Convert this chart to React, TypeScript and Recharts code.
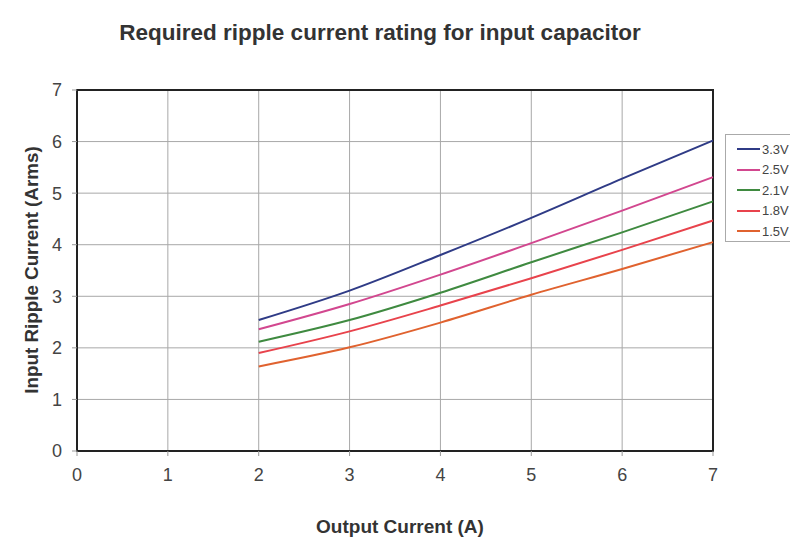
import React from 'react';
import { LineChart, Line, XAxis, YAxis, CartesianGrid, ReferenceArea } from 'recharts';

// output current (A)
const outputCurrent = [2, 3, 4, 5, 6, 7];

// input ripple current (Arms) per output voltage
const ripple33 = [2.54, 3.11, 3.80, 4.52, 5.28, 6.02];
const ripple25 = [2.36, 2.85, 3.42, 4.03, 4.66, 5.31];
const ripple21 = [2.12, 2.54, 3.07, 3.66, 4.24, 4.84];
const ripple18 = [1.90, 2.32, 2.82, 3.35, 3.90, 4.47];
const ripple15 = [1.64, 2.01, 2.49, 3.03, 3.53, 4.05];

const seriesNames = ['3.3V', '2.5V', '2.1V', '1.8V', '1.5V'];
const seriesColors = ['#2f3b86', '#d2478f', '#3f8a40', '#e8434c', '#e0622f'];
const seriesValues = [ripple33, ripple25, ripple21, ripple18, ripple15];

const axisTicks = [0, 1, 2, 3, 4, 5, 6, 7];

const data = outputCurrent.map((x, i) => {
  const row: any = { x };
  seriesNames.forEach((name, s) => {
    row[name] = seriesValues[s][i];
  });
  return row;
});

const font = '"Liberation Sans", Arial, Helvetica, sans-serif';

export default function App() {
  return (
    <div
      style={{
        position: 'absolute',
        left: 0,
        top: 0,
        width: 790,
        height: 537,
        overflow: 'hidden',
        background: '#fff',
        fontFamily: font,
      }}
    >
      <div
        style={{
          position: 'absolute',
          left: 380,
          top: 33,
          transform: 'translate(-50%, -50%)',
          whiteSpace: 'nowrap',
          fontWeight: 'bold',
          fontSize: 22.5,
          color: '#333',
        }}
      >
        Required ripple current rating for input capacitor
      </div>

      <LineChart
        width={790}
        height={537}
        data={data}
        margin={{ top: 90, right: 77, bottom: 0, left: 0 }}
      >
        <CartesianGrid stroke="#a8a8a8" strokeWidth={1} />
        <XAxis
          dataKey="x"
          type="number"
          domain={[0, 7]}
          ticks={axisTicks}
          height={86}
          tickSize={5}
          tickMargin={12}
          axisLine={{ stroke: '#222', strokeWidth: 2 }}
          tickLine={{ stroke: '#999' }}
          tick={{ fill: '#444', fontSize: 18, fontFamily: font }}
        />
        <YAxis
          type="number"
          domain={[0, 7]}
          ticks={axisTicks}
          width={77}
          tickSize={5}
          tickMargin={10}
          axisLine={{ stroke: '#222', strokeWidth: 2 }}
          tickLine={{ stroke: '#999' }}
          tick={{ fill: '#444', fontSize: 18, fontFamily: font }}
        />
        <ReferenceArea x1={0} x2={7} y1={0} y2={7} fill="none" stroke="#222" strokeWidth={2} />
        {seriesNames.map((name, s) => (
          <Line
            key={name}
            type="monotone"
            dataKey={name}
            stroke={seriesColors[s]}
            strokeWidth={2}
            dot={false}
            isAnimationActive={false}
          />
        ))}
      </LineChart>

      <div
        style={{
          position: 'absolute',
          left: 32,
          top: 270,
          transform: 'translate(-50%, -50%) rotate(-90deg)',
          whiteSpace: 'nowrap',
          fontWeight: 'bold',
          fontSize: 18.8,
          color: '#333',
        }}
      >
        Input Ripple Current (Arms)
      </div>

      <div
        style={{
          position: 'absolute',
          left: 400,
          top: 527,
          transform: 'translate(-50%, -50%)',
          whiteSpace: 'nowrap',
          fontWeight: 'bold',
          fontSize: 19,
          color: '#333',
        }}
      >
        Output Current (A)
      </div>

      <div
        style={{
          position: 'absolute',
          left: 725,
          top: 134,
          width: 80,
          height: 108,
          border: '1px solid #aaa',
          background: '#fff',
          boxSizing: 'border-box',
        }}
      >
        {seriesNames.map((name, s) => (
          <div
            key={name}
            style={{
              position: 'absolute',
              left: 11,
              top: 6 + s * 20.5,
              height: 16,
              display: 'flex',
              alignItems: 'center',
              fontSize: 13,
              color: '#444',
              whiteSpace: 'nowrap',
            }}
          >
            <span
              style={{
                display: 'inline-block',
                width: 23,
                height: 2,
                background: seriesColors[s],
                marginRight: 2,
              }}
            />
            {name}
          </div>
        ))}
      </div>
    </div>
  );
}
